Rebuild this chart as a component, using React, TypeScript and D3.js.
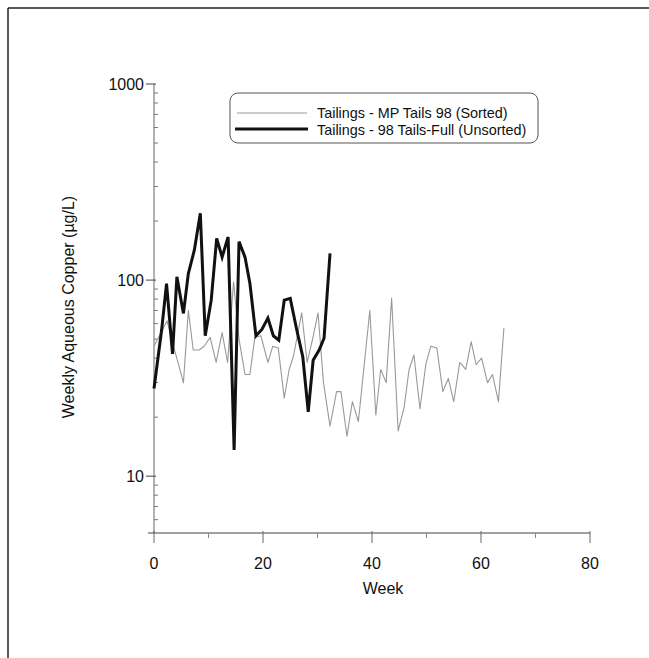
import React from "react";
import * as d3 from "d3";

const sortedWeeks = [0, 1.3, 2.4, 3.3, 4.4, 5.4, 6.3, 7.2, 8.3, 9.2, 10.3, 11.4, 12.5, 13.5, 14.6, 15.6, 16.7, 17.6, 18.5, 19.6, 20.9, 21.8, 22.8, 23.9, 24.8, 25.6, 27.1, 28.1, 29.1, 30.1, 31.1, 32.3, 33.5, 34.3, 35.4, 36.4, 37.5, 39.6, 40.7, 41.6, 42.6, 43.6, 44.8, 45.9, 46.8, 47.7, 48.8, 49.9, 50.8, 51.9, 53.0, 54.0, 55.0, 56.1, 57.2, 58.2, 59.1, 60.1, 61.2, 62.1, 63.2, 64.2];
const sortedValues = [46, 54, 62, 49, 38, 30, 70, 44, 44, 46, 51, 38, 54, 38, 98, 50, 33, 33, 51, 52, 38, 46, 45, 25, 35, 41, 68, 38, 50, 68, 30, 18, 27, 27, 16, 24, 19, 70, 20.5, 35, 30, 81, 17, 22.5, 35, 41.5, 22, 37.5, 46, 45, 27, 31.5, 24, 38, 35, 48.5, 37, 40, 30, 33, 24, 57];

const unsortedWeeks = [0, 1.4, 2.3, 3.4, 4.2, 5.4, 6.3, 7.4, 8.5, 9.4, 10.5, 11.5, 12.5, 13.6, 14.7, 15.6, 16.7, 17.6, 18.7, 19.8, 20.9, 21.9, 22.9, 23.9, 25.0, 26.2, 27.3, 28.3, 29.2, 30.3, 31.2, 32.3];
const unsortedValues = [28, 55.6, 96, 42, 104, 67.6, 108, 142, 219, 52, 79, 163, 131, 166, 13.6, 157, 131, 96, 52, 56, 64, 52, 49.4, 79, 80.7, 55.6, 40.6, 21.3, 39, 44, 50.5, 137];

const xMajorTicks = [0, 20, 40, 60, 80];
const xMinorTicks = [10, 30, 50, 70];
const yMajorTicks = [10, 100, 1000];
const seriesNames = ["Tailings - MP Tails 98 (Sorted)", "Tailings - 98 Tails-Full (Unsorted)"];

const FONT = "'Liberation Sans', Arial, sans-serif";

export default function App() {
  const x = d3.scaleLinear().domain([0, 80]).range([154, 590]);
  const y = d3.scaleLog().domain([5.13, 1000]).range([533, 84]);

  const yMinor: number[] = [];
  [1, 10, 100].forEach((d) => {
    for (let m = 2; m <= 9; m++) {
      const v = d * m;
      if (v >= 5.13 && v < 1000) yMinor.push(v);
    }
  });

  const sortedPts = sortedWeeks.map((w, i) => [w, sortedValues[i]] as [number, number]);
  const unsortedPts = unsortedWeeks.map((w, i) => [w, unsortedValues[i]] as [number, number]);
  const line = d3
    .line<[number, number]>()
    .x((d) => x(d[0]))
    .y((d) => y(d[1]));

  const y0 = y.range()[0];
  const x0 = x.range()[0];

  return (
    <svg
      width={649}
      height={658}
      style={{ position: "absolute", left: 0, top: 0, display: "block", background: "#fff" }}
    >
      {/* page frame */}
      <line x1={8} y1={8} x2={649} y2={8} stroke="#222" strokeWidth={1.5} />
      <line x1={8} y1={8} x2={8} y2={658} stroke="#222" strokeWidth={1.5} />

      {/* y axis */}
      <line x1={x0} y1={y(1000)} x2={x0} y2={y0} stroke="#666" strokeWidth={1} />
      {yMajorTicks.map((t) => (
        <g key={"ym" + t}>
          <line x1={x0 - 8} x2={x0 + 2} y1={y(t)} y2={y(t)} stroke="#444" strokeWidth={1} />
          <text x={x0 - 10} y={y(t) + 5.5} textAnchor="end" fontFamily={FONT} fontSize={16} fill="#111">
            {t}
          </text>
        </g>
      ))}
      {yMinor.map((t) => (
        <line key={"yn" + t} x1={x0} x2={x0 + 4} y1={y(t)} y2={y(t)} stroke="#777" strokeWidth={1} />
      ))}

      {/* x axis */}
      <line x1={x0 - 6} y1={y0} x2={x.range()[1]} y2={y0} stroke="#444" strokeWidth={1.2} />
      {xMajorTicks.map((t) => (
        <g key={"xm" + t}>
          <line x1={x(t)} x2={x(t)} y1={y0 - 2} y2={y0 + 10} stroke="#666" strokeWidth={1} />
          <text x={x(t)} y={y0 + 36} textAnchor="middle" fontFamily={FONT} fontSize={16} fill="#111">
            {t}
          </text>
        </g>
      ))}
      {xMinorTicks.map((t) => (
        <line key={"xn" + t} x1={x(t)} x2={x(t)} y1={y0} y2={y0 + 5} stroke="#888" strokeWidth={1} />
      ))}

      {/* axis titles */}
      <text x={383} y={594} textAnchor="middle" fontFamily={FONT} fontSize={16} fill="#111">
        Week
      </text>
      <text
        transform={`translate(74, 307) rotate(-90)`}
        textAnchor="middle"
        fontFamily={FONT}
        fontSize={16}
        fill="#111"
      >
        Weekly Aqueous Copper (µg/L)
      </text>

      {/* series */}
      <path d={line(sortedPts) || ""} fill="none" stroke="#999" strokeWidth={1.1} strokeLinejoin="round" />
      <path d={line(unsortedPts) || ""} fill="none" stroke="#111" strokeWidth={3} strokeLinejoin="miter" />

      {/* legend */}
      <rect x={230} y={93} width={308} height={50} rx={8} ry={8} fill="none" stroke="#555" strokeWidth={1} />
      <line x1={237} x2={307} y1={113} y2={113} stroke="#999" strokeWidth={1.1} />
      <line x1={235} x2={308} y1={129} y2={129} stroke="#111" strokeWidth={3} />
      <text x={317} y={118} fontFamily={FONT} fontSize={14.4} fill="#111">
        {seriesNames[0]}
      </text>
      <text x={317} y={134.5} fontFamily={FONT} fontSize={14.4} fill="#111">
        {seriesNames[1]}
      </text>
    </svg>
  );
}
